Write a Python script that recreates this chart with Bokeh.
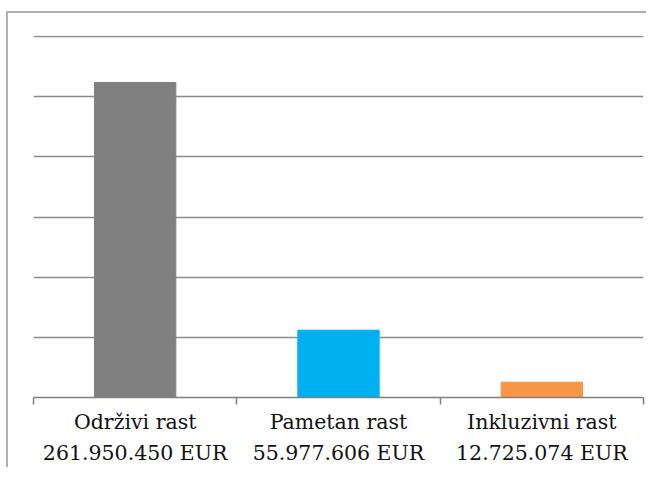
from bokeh.plotting import figure
from bokeh.models import FixedTicker, ColumnDataSource
from bokeh.embed import file_html
from bokeh.resources import INLINE

categories = ["Održivi rast", "Pametan rast", "Inkluzivni rast"]
amounts = ["261.950.450 EUR", "55.977.606 EUR", "12.725.074 EUR"]
values = [261950450, 55977606, 12725074]
colors = ["#808080", "#00B0F0", "#F79646"]
y_ticks = [0, 50e6, 100e6, 150e6, 200e6, 250e6, 300e6]

xs = [i + 0.5 for i in range(len(categories))]
src = ColumnDataSource(dict(x=xs, top=values, color=colors))

p = figure(width=646, height=467, output_backend="svg", toolbar_location=None,
           x_range=(0, len(categories)), y_range=(0, 301e6),
           min_border_left=33, min_border_right=3, min_border_top=35, min_border_bottom=70)
p.outline_line_color = None
p.background_fill_color = "white"
p.border_fill_color = None
p.styles = {
    "background": "linear-gradient(#b0b0b0, #b0b0b0) 6px 11px / 2px 100% no-repeat, "
                  "linear-gradient(#b0b0b0, #b0b0b0) 6px 11px / 100% 2px no-repeat, white"
}

p.vbar(x="x", top="top", width=0.4, color="color", source=src)

p.xgrid.visible = False
p.ygrid.ticker = FixedTicker(ticks=y_ticks)
p.ygrid.grid_line_color = "#8a8a8a"
p.ygrid.grid_line_width = 1.5
p.yaxis.visible = False

ax = p.xaxis[0]
ax.ticker = FixedTicker(ticks=xs, minor_ticks=list(range(len(categories) + 1)))
ax.major_label_overrides = {x: f"{c}\n{a}" for x, c, a in zip(xs, categories, amounts)}
ax.major_tick_line_color = None
ax.major_tick_out = 0
ax.major_tick_in = 0
ax.minor_tick_line_color = "#7f7f7f"
ax.minor_tick_line_width = 1.5
ax.minor_tick_out = 7
ax.minor_tick_in = 0
ax.axis_line_color = "#7f7f7f"
ax.axis_line_width = 1.5
ax.major_label_standoff = 5
ax.major_label_text_font = "DejaVu Serif"
ax.major_label_text_font_size = "20.5px"
ax.major_label_text_color = "#111111"
ax.major_label_text_line_height = 1.3

open("out.html", "w").write(file_html(p, INLINE))
